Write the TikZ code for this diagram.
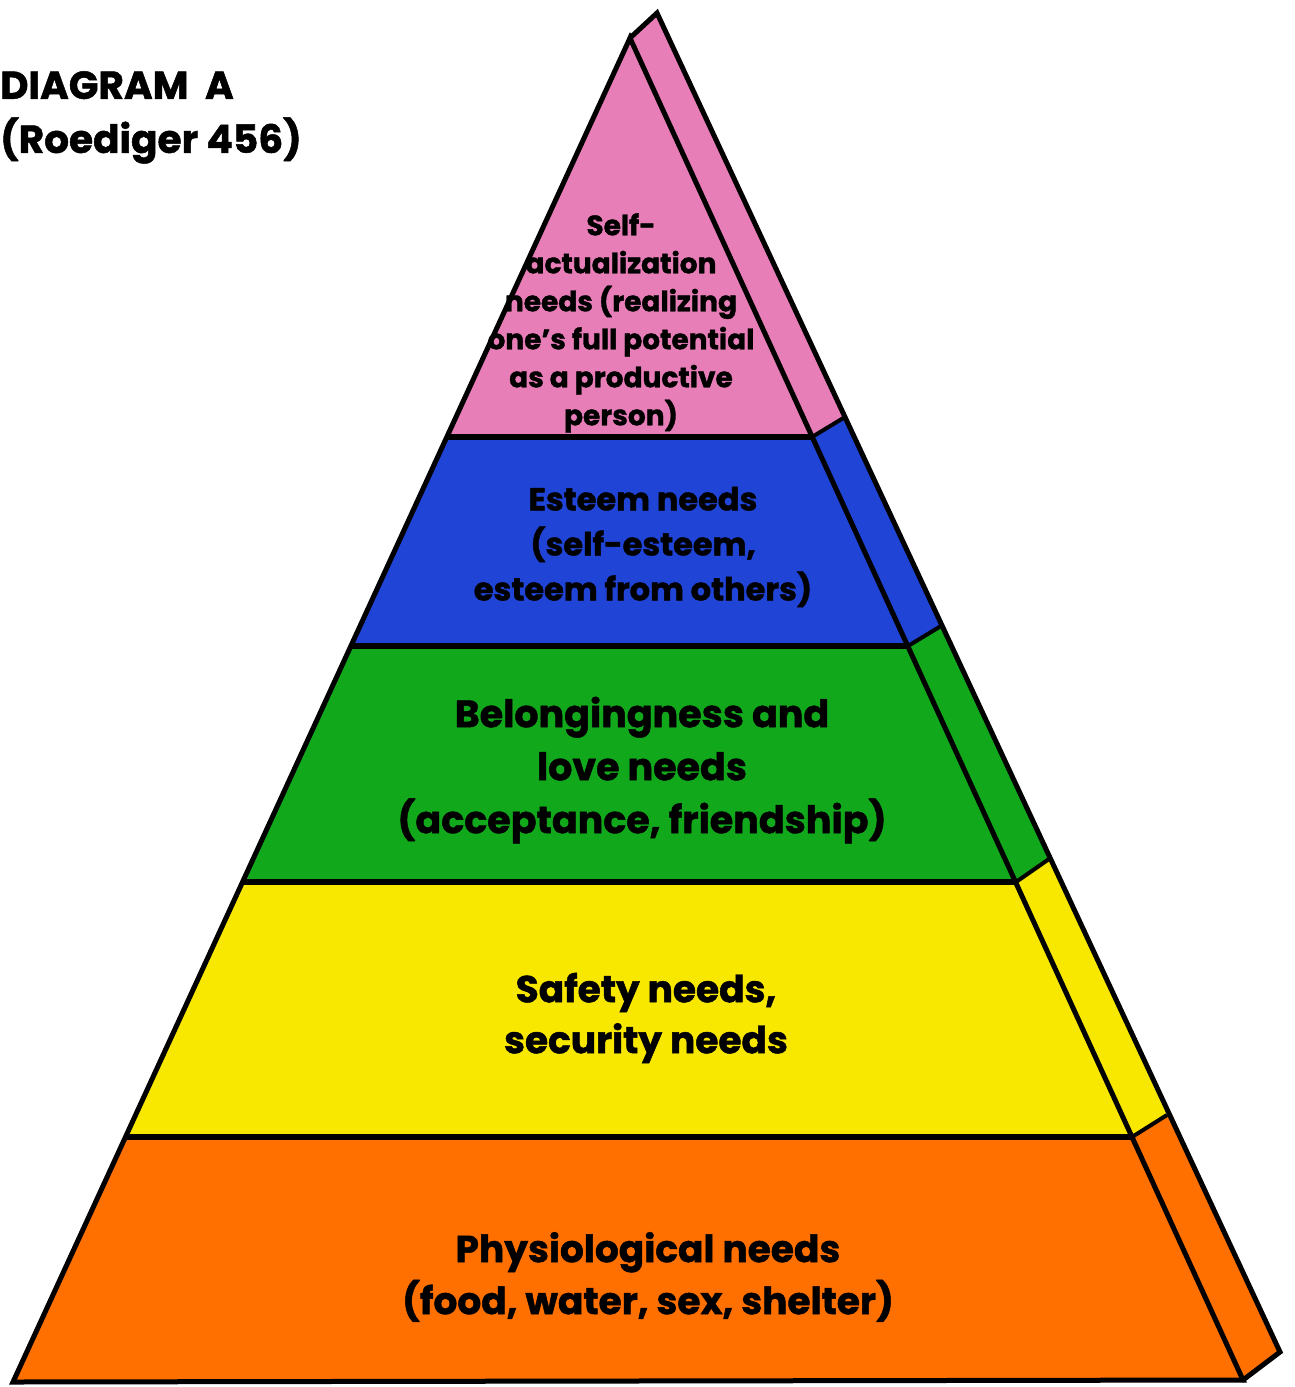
\documentclass[tikz,border=0pt]{standalone}
\usepackage{fontspec}
\setmainfont{Poppins}[BoldFeatures={FakeBold=1.3}]
\usetikzlibrary{calc}

\definecolor{pinktier}{RGB}{232,126,184}
\definecolor{bluetier}{RGB}{32,68,214}
\definecolor{greentier}{RGB}{18,168,28}
\definecolor{yellowtier}{RGB}{248,232,0}
\definecolor{orangetier}{RGB}{255,112,0}

\tikzset{
  edge/.style={line width=5pt, line join=miter, line cap=round},
  band/.style={line width=6.5pt},
  sideband/.style={line width=4pt},
  tierlabel/.style={align=center, text=black, inner sep=0pt},
}

\begin{document}
\begin{tikzpicture}[x=1pt, y=-1pt]
\useasboundingbox (0,0) rectangle (1294,1387);

% corners of the pyramid
\coordinate (A) at (630,38);    % front apex
\coordinate (B) at (657,13);    % back apex
\coordinate (L) at (13,1382);   % front bottom left
\coordinate (R) at (1243,1380); % front bottom right
\coordinate (S) at (1280,1352); % back bottom right

% tier boundaries: left edge, right edge, outer edge of the side face
\coordinate (l1) at (447,437);   \coordinate (r1) at (812,437);   \coordinate (o1) at (845,417);
\coordinate (l2) at (351,646);   \coordinate (r2) at (908,646);   \coordinate (o2) at (941,626);
\coordinate (l3) at (243,882);   \coordinate (r3) at (1016,882);  \coordinate (o3) at (1049,859);
\coordinate (l4) at (126,1137);  \coordinate (r4) at (1132,1137); \coordinate (o4) at (1167,1115);

% side face
\fill[pinktier]   (A) -- (B) -- (o1) -- (r1) -- cycle;
\fill[bluetier]   (r1) -- (o1) -- (o2) -- (r2) -- cycle;
\fill[greentier]  (r2) -- (o2) -- (o3) -- (r3) -- cycle;
\fill[yellowtier] (r3) -- (o3) -- (o4) -- (r4) -- cycle;
\fill[orangetier] (r4) -- (o4) -- (S) -- (R) -- cycle;

% front face
\fill[pinktier]   (A) -- (r1) -- (l1) -- cycle;
\fill[bluetier]   (l1) -- (r1) -- (r2) -- (l2) -- cycle;
\fill[greentier]  (l2) -- (r2) -- (r3) -- (l3) -- cycle;
\fill[yellowtier] (l3) -- (r3) -- (r4) -- (l4) -- cycle;
\fill[orangetier] (l4) -- (r4) -- (R) -- (L) -- cycle;

% separators
\draw[band] (l1) -- (r1);
\draw[band] (l2) -- (r2);
\draw[band] (l3) -- (r3);
\draw[band] (l4) -- (r4);
\draw[sideband] (r1) -- (o1);
\draw[sideband] (r2) -- (o2);
\draw[sideband] (r3) -- (o3);
\draw[sideband] (r4) -- (o4);

% outlines
\draw[edge] (A) -- (L) -- (R) -- cycle;
\draw[edge] (A) -- (B) -- (S) -- (R);

% labels
\node[tierlabel, font=\bfseries\fontsize{28}{38}\selectfont] (self) at (621,323)
  {Self-\\actualization\\needs (realizing\\one’s full potential\\as a productive\\person)};
\node[tierlabel, font=\bfseries\fontsize{32}{45}\selectfont] (esteem) at (643,547)
  {Esteem needs\\(self-esteem,\\esteem from others)};
\node[tierlabel, font=\bfseries\fontsize{38}{53}\selectfont] (love) at (642,770)
  {Belongingness and\\love needs\\(acceptance, friendship)};
\node[tierlabel, font=\bfseries\fontsize{37.5}{51}\selectfont] (safety) at (646,1018)
  {Safety needs,\\security needs};
\node[tierlabel, font=\bfseries\fontsize{37.5}{52}\selectfont] (physio) at (648,1277)
  {Physiological needs\\(food, water, sex, shelter)};

\node[tierlabel, align=left, anchor=north west, font=\bfseries\fontsize{39}{54}\selectfont] (title) at (0,71)
  {DIAGRAM\ \ A\\(Roediger 456)};
\end{tikzpicture}
\end{document}
